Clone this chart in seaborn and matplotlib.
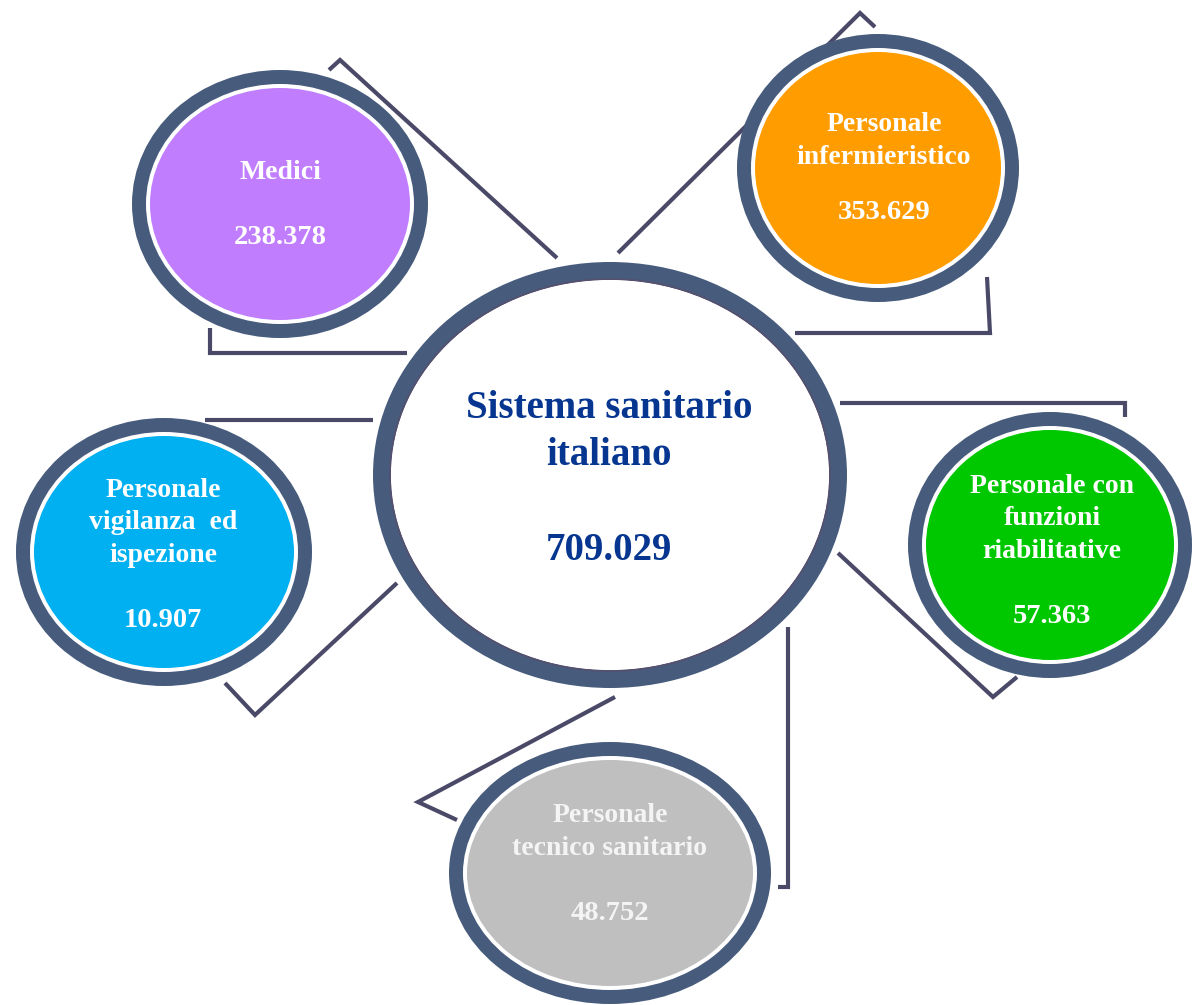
import matplotlib
matplotlib.use("Agg")
import matplotlib.pyplot as plt
from matplotlib.patches import Ellipse
import seaborn as sns
import pandas as pd

# ---- data ----
center_label = ["Sistema sanitario", "italiano"]
center_value = "709.029"
categories = [
    ["Medici"],
    ["Personale", "infermieristico"],
    ["Personale", "vigilanza  ed", "ispezione"],
    ["Personale con", "funzioni", "riabilitative"],
    ["Personale", "tecnico sanitario"],
]
values = ["238.378", "353.629", "10.907", "57.363", "48.752"]
fill_colors = ["#C07EFF", "#FF9C00", "#00B0F0", "#00C800", "#BFBFBF"]
text_colors = ["white", "white", "white", "white", "#F4F4F4"]

# ---- layout (pixels) ----
W, H = 1192, 1005
ring_col = "#475B7C"
line_col = "#4A4A68"
center_geom = (610, 475, 237, 213)
geoms = [(280, 204, 148, 134), (878, 168, 141, 134), (164, 552, 148, 134),
         (1050, 545, 142, 133), (610, 873, 161, 131)]
label_base = [[179], [131, 164], [497, 529, 562], [493, 525, 558], [822, 855]]
value_base = [244, 219, 627, 623, 920]
text_x = [280, 884, 163, 1052, 610]

connectors = [
    [(329, 70), (340, 60), (557, 258)],
    [(210, 328), (210, 353), (407, 353)],
    [(875, 27), (860, 13), (618, 253)],
    [(987, 277), (990, 333), (795, 333)],
    [(205, 420), (373, 420)],
    [(397, 583), (255, 715), (225, 683)],
    [(840, 403), (1125, 403), (1125, 417)],
    [(838, 553), (993, 697), (1017, 677)],
    [(615, 697), (418, 802), (457, 820)],
    [(788, 627), (788, 887), (778, 887)],
]

sns.set_theme(style="white")
plt.rcParams["font.family"] = ["Liberation Serif", "DejaVu Serif"]

fig = plt.figure(figsize=(W / 100, H / 100), dpi=100)
ax = fig.add_axes([0, 0, 1, 1])

rows = []
for i, seg in enumerate(connectors):
    for k, (x, y) in enumerate(seg):
        rows.append({"seg": i, "order": k, "x": x, "y": y})
df = pd.DataFrame(rows)
sns.lineplot(data=df, x="x", y="y", units="seg", estimator=None, sort=False,
             color=line_col, linewidth=3.0, ax=ax, zorder=1,
             solid_joinstyle="miter", solid_capstyle="butt")


def ring(cx, cy, a, b, t, gap, fill):
    ax.add_patch(Ellipse((cx, cy), 2 * a, 2 * b, facecolor=ring_col, edgecolor="none", zorder=2))
    ax.add_patch(Ellipse((cx, cy), 2 * (a - t), 2 * (b - t), facecolor="white", edgecolor="none", zorder=3))
    ax.add_patch(Ellipse((cx, cy), 2 * (a - t - gap), 2 * (b - t - gap), facecolor=fill,
                         edgecolor="none", zorder=4))


cx, cy, a, b = center_geom
ring(cx, cy, a, b, 18, 0, "white")
ax.add_patch(Ellipse((cx, cy), 2 * (a - 17), 2 * (b - 17), facecolor="none",
                     edgecolor="#55506E", linewidth=1.2, zorder=4))
ax.text(609, 418, center_label[0], ha="center", va="baseline", fontsize=28,
        fontweight="bold", color="#063690", zorder=6)
ax.text(609, 465, center_label[1], ha="center", va="baseline", fontsize=28,
        fontweight="bold", color="#063690", zorder=6)
ax.text(609, 560, center_value, ha="center", va="baseline", fontsize=28,
        fontweight="bold", color="#063690", zorder=6)

for i, (g, fc) in enumerate(zip(geoms, fill_colors)):
    ring(*g, 14, 4, fc)
    for line, yb in zip(categories[i], label_base[i]):
        ax.text(text_x[i], yb, line, ha="center", va="baseline", fontsize=20,
                fontweight="bold", color=text_colors[i], zorder=6)
    ax.text(text_x[i], value_base[i], values[i], ha="center", va="baseline",
            fontsize=20.5, fontweight="bold", color=text_colors[i], zorder=6)

ax.set_xlim(0, W)
ax.set_ylim(H, 0)
ax.set_aspect("equal")
ax.axis("off")
fig.savefig("out.png", dpi=100, facecolor="white")
